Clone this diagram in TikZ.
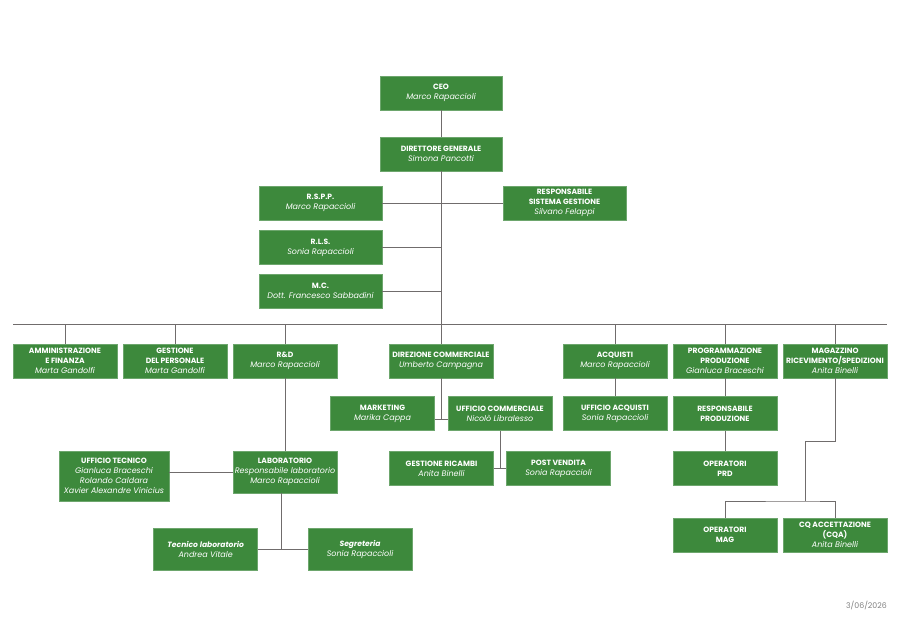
\documentclass[tikz,border=0pt]{standalone}
\usepackage{fontspec}
\setmainfont{Poppins}
\definecolor{boxgreen}{RGB}{61,137,60}
\definecolor{linegray}{RGB}{112,108,108}
\newcommand{\role}[1]{\textbf{#1}}
\newcommand{\who}[1]{{\fontsize{8}{10}\selectfont\itshape #1}}

\begin{document}
\begin{tikzpicture}[x=1pt, y=-1pt,
	box/.style={rectangle, fill=boxgreen, draw=boxgreen!75!white, line width=0.6pt, align=center, text=white, minimum width=104pt, minimum height=34pt, inner sep=1pt, font=\fontsize{7.6}{10}\selectfont},
	link/.style={draw=linegray, line width=0.8pt}]

\useasboundingbox (0, 0) rectangle (900, 637);

\node(0) [box, minimum width=122pt] at (441, 93) {\role{CEO} \\ \who{Marco Rapaccioli}};
\node(1) [box, minimum width=122pt] at (441, 154) {\role{DIRETTORE GENERALE} \\ \who{Simona Pancotti}};

\node(2) [box, minimum width=123pt] at (320.5, 203) {\role{R.S.P.P.} \\ \who{Marco Rapaccioli}};
\node(3) [box, minimum width=123pt] at (564.5, 203) {
	\role{RESPONSABILE} \\
	\role{SISTEMA GESTIONE} \\
	\who{Silvano Felappi}
};
\node(4) [box, minimum width=123pt] at (320.5, 247.5) {\role{R.L.S.} \\ \who{Sonia Rapaccioli}};
\node(5) [box, minimum width=123pt] at (320.5, 291) {\role{M.C.} \\ \who{Dott. Francesco Sabbadini}};

\coordinate(bl) at (13, 324);
\coordinate(br) at (887, 324);

\node(6) [box] at (65, 361) {
	\role{AMMINISTRAZIONE} \\
	\role{E FINANZA} \\
	\who{Marta Gandolfi}
};
\node(7) [box] at (175, 361) {
	\role{GESTIONE} \\
	\role{DEL PERSONALE} \\
	\who{Marta Gandolfi}
};
\node(8) [box] at (285, 361) {\role{R\&D} \\ \who{Marco Rapaccioli}};
\node(9) [box] at (441, 361) {\role{DIREZIONE COMMERCIALE} \\ \who{Umberto Campagna}};
\node(10) [box] at (615, 361) {\role{ACQUISTI} \\ \who{Marco Rapaccioli}};
\node(11) [box] at (725, 361) {
	\role{PROGRAMMAZIONE} \\
	\role{PRODUZIONE} \\
	\who{Gianluca Braceschi}
};
\node(12) [box] at (835, 361) {
	\role{MAGAZZINO} \\
	\role{RICEVIMENTO/SPEDIZIONI} \\
	\who{Anita Binelli}
};

\node(13) [box] at (382.5, 413.5) {\role{MARKETING} \\ \who{Marika Cappa}};
\node(14) [box] at (500, 413.5) {\role{UFFICIO COMMERCIALE} \\ \who{Nicolò Libralesso}};
\node(15) [box] at (615, 413.5) {\role{UFFICIO ACQUISTI} \\ \who{Sonia Rapaccioli}};
\node(16) [box] at (725, 413.5) {\role{RESPONSABILE} \\ \role{PRODUZIONE}};
\coordinate(j1) at (441, 419);

\node(17) [box] at (441.5, 468.5) {\role{GESTIONE RICAMBI} \\ \who{Anita Binelli}};
\node(18) [box] at (558.5, 468.5) {\role{POST VENDITA} \\ \who{Sonia Rapaccioli}};
\node(19) [box] at (725, 468.5) {\role{OPERATORI} \\ \role{PRD}};

\node(20) [box, minimum width=110pt, minimum height=50pt] at (114, 476) {
	\role{UFFICIO TECNICO} \\
	\who{Gianluca Braceschi} \\
	\who{Rolando Caldara} \\
	\who{Xavier Alexandre Vinicius}
};
\node(21) [box, minimum height=42pt] at (285, 472) {
	\role{LABORATORIO} \\
	\who{Responsabile laboratorio} \\
	\who{Marco Rapaccioli}
};
\node(22) [box, minimum height=42pt] at (205.7, 549) {\role{\itshape Tecnico laboratorio} \\ \who{Andrea Vitale}};
\node(23) [box, minimum height=42pt] at (360, 549) {\role{\itshape Segreteria} \\ \who{Sonia Rapaccioli}};

\coordinate(m1) at (805, 441);
\coordinate(m2) at (805, 501);
\node(24) [box] at (725, 535) {\role{OPERATORI} \\ \role{MAG}};
\node(25) [box] at (835, 535) {
	\role{CQ ACCETTAZIONE} \\
	\role{(CQA)} \\
	\who{Anita Binelli}
};

\node(26) [anchor=east, text=gray, inner sep=0pt, font=\fontsize{7.8}{9}\selectfont] at (887, 605) {3/06/2026};

\draw [link] (0) -- (1);
\draw [link] (1) -- (9);
\draw [link] (2) -- (3);
\draw [link] (4.east) -- (4.east -| 1.south);
\draw [link] (5.east) -- (5.east -| 1.south);

\draw [link] (bl) -- (br);
\foreach \n in {6, 7, 8, 10, 11, 12}
	\draw [link] (\n.north) -- (\n.north |- bl);

\draw [link] (9.south) -- (j1);
\draw [link] (13.east |- j1) -- (14.west |- j1);
\draw [link] (14.south) -- (14.south |- 17.east);
\draw [link] (17) -- (18);
\draw [link] (10) -- (15);
\draw [link] (11) -- (16);
\draw [link] (16) -- (19);

\draw [link] (12.south) |- (m1) -- (m2);
\draw [link] (24.north) |- (m2) -| (25.north);

\draw [link] (8) -- (21);
\draw [link] (20.east |- 21.west) -- (21.west);
\draw [link] ([xshift=-4pt]21.south) -- ([xshift=-4pt]21.south |- 22.east);
\draw [link] (22) -- (23);

\end{tikzpicture}
\end{document}
